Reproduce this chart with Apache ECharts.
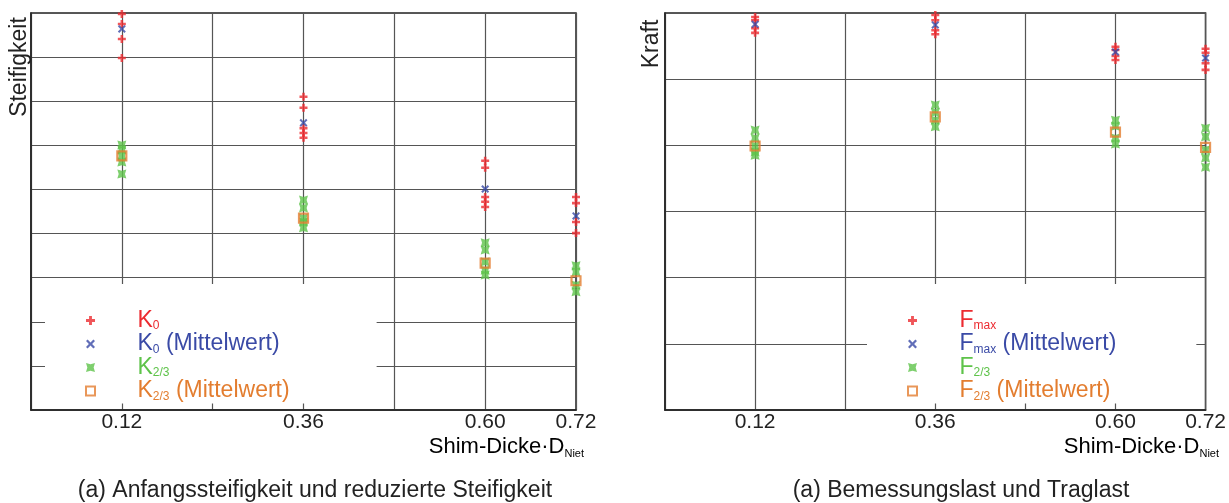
<!DOCTYPE html>
<html><head><meta charset="utf-8">
<script src="https://cdn.jsdelivr.net/npm/echarts@6/dist/echarts.min.js"></script>
<style>html,body{margin:0;padding:0;background:#fff}#c{width:1229px;height:503px}</style>
</head><body><div id="c"></div>
<script>
// ---- data (arbitrary units; y axis has no tick labels) ----
const xCats = [0.12, 0.36, 0.60, 0.72];
const xTickLabels = ['0.12', '0.36', '0.60', '0.72'];
// Left panel: Steifigkeit (grid 0..9)
const K0 = [[8.98, 8.75, 8.41, 7.98], [7.10, 6.85, 6.39, 6.28, 6.17], [5.65, 5.49, 4.83, 4.72, 4.60], [4.83, 4.69, 4.26, 4.01]];
const K0Mean = [8.64, 6.51, 5.01, 4.40];
const K23 = [[6.01, 5.90, 5.76, 5.62, 5.35], [4.76, 4.58, 4.35, 4.26, 4.13], [3.79, 3.63, 3.36, 3.17, 3.06], [3.27, 3.13, 2.83, 2.68]];
const K23Mean = [5.76, 4.35, 3.33, 2.93];
// Right panel: Kraft (grid 0..6)
const Fmax = [[5.94, 5.89, 5.77, 5.70], [5.97, 5.89, 5.74, 5.68], [5.49, 5.44, 5.35, 5.29], [5.46, 5.40, 5.24, 5.14]];
const FmaxMean = [5.83, 5.82, 5.41, 5.32];
const F23 = [[4.23, 4.11, 3.99, 3.90, 3.85], [4.61, 4.50, 4.38, 4.28], [4.38, 4.29, 4.11, 4.02], [4.26, 4.13, 3.93, 3.81, 3.67]];
const F23Mean = [3.99, 4.43, 4.20, 3.97];

const RED = '#ec2b30', BLUE = '#3a4aa6', GREEN = '#5ec34a', ORANGE = '#e37d2f';
const FONT = '"Liberation Sans", Arial, sans-serif';
const PLUS = 'path://M0,3.4H10V6.6H0Z M3.4,0H6.6V10H3.4Z';
const CROSS = 'path://M0,1.8L1.8,0L5,3.2L8.2,0L10,1.8L6.8,5L10,8.2L8.2,10L5,6.8L1.8,10L0,8.2L3.2,5Z';
const STAR = 'path://M0,0L5,1.5L10,0L8.5,5L10,10L5,8.5L0,10L1.5,5Z';
const BOX = 'path://M0,0H10V10H0Z';

function multi(arr) { const out = []; arr.forEach((vals, i) => vals.forEach(v => out.push([xCats[i], v]))); return out; }
function single(arr) { return arr.map((v, i) => [xCats[i], v]); }

function sc(name, data, idx, symbol, size, color, z, extra) {
  return Object.assign({
    type: 'scatter', name: name, data: data, xAxisIndex: idx, yAxisIndex: idx,
    symbol: symbol, symbolSize: size, z: z, itemStyle: { color: color }, animation: false
  }, extra || {});
}

const rich = {
  r: { color: RED, fontSize: 23, lineHeight: 23, fontFamily: FONT },
  rs: { color: RED, fontSize: 12, lineHeight: 9, verticalAlign: 'bottom', fontFamily: FONT },
  b: { color: BLUE, fontSize: 23, lineHeight: 23, fontFamily: FONT },
  bs: { color: BLUE, fontSize: 12, lineHeight: 9, verticalAlign: 'bottom', fontFamily: FONT },
  g: { color: GREEN, fontSize: 23, lineHeight: 23, fontFamily: FONT },
  gs: { color: GREEN, fontSize: 12, lineHeight: 9, verticalAlign: 'bottom', fontFamily: FONT },
  o: { color: ORANGE, fontSize: 23, lineHeight: 23, fontFamily: FONT },
  os: { color: ORANGE, fontSize: 12, lineHeight: 9, verticalAlign: 'bottom', fontFamily: FONT }
};
const legendText = {
  'K0': '{r|K}{rs|0}',
  'K0 (Mittelwert)': '{b|K}{bs|0}{b| (Mittelwert)}',
  'K2/3': '{g|K}{gs|2/3}',
  'K2/3 (Mittelwert)': '{o|K}{os|2/3}{o| (Mittelwert)}',
  'Fmax': '{r|F}{rs|max}',
  'Fmax (Mittelwert)': '{b|F}{bs|max}{b| (Mittelwert)}',
  'F2/3': '{g|F}{gs|2/3}',
  'F2/3 (Mittelwert)': '{o|F}{os|2/3}{o| (Mittelwert)}'
};

function xAxis(idx) {
  return {
    type: 'value', gridIndex: idx, min: 0, max: 0.72, interval: 0.12,
    axisLine: { show: true, lineStyle: { color: '#222', width: 1.5 } },
    axisTick: { show: false },
    splitLine: { show: true, lineStyle: { color: '#555', width: 1.2 } },
    axisLabel: {
      margin: 2, fontSize: 21, color: '#222', fontFamily: FONT, showMinLabel: true, showMaxLabel: true,
      formatter: v => { const i = xCats.findIndex(c => Math.abs(c - v) < 1e-6); return i >= 0 ? xTickLabels[i] : ''; }
    }
  };
}
function yAxis(idx, max) {
  return {
    type: 'value', gridIndex: idx, min: 0, max: max, interval: 1,
    axisLine: { show: true, lineStyle: { color: '#222', width: 1.5 } },
    axisTick: { show: false }, axisLabel: { show: false },
    splitLine: { show: true, lineStyle: { color: '#555', width: 1.2 } }
  };
}
function legend(names, left, padRight) {
  return {
    data: names, orient: 'vertical', left: left, top: 284,
    padding: [25, padRight, 1, 40], backgroundColor: '#fff',
    itemWidth: 84, itemHeight: 9, itemGap: 0.5,
    formatter: n => legendText[n],
    textStyle: { fontFamily: FONT, fontSize: 23, rich: rich },
    selectedMode: false
  };
}
const subRich = {
  a: { fontSize: 22, lineHeight: 24, color: '#222', fontFamily: FONT },
  s: { fontSize: 11, lineHeight: 8, verticalAlign: 'bottom', color: '#222', fontFamily: FONT }
};
const hollow = { itemStyle: { color: 'rgba(255,255,255,0)', borderColor: ORANGE, borderWidth: 2.2 } };

const option = {
  backgroundColor: '#fff',
  animation: false,
  grid: [
    { left: 31, right: 653, top: 13, bottom: 93, show: true, borderColor: '#222', borderWidth: 1.5, backgroundColor: 'transparent' },
    { left: 665, right: 17, top: 13, bottom: 93, show: true, borderColor: '#222', borderWidth: 1.5, backgroundColor: 'transparent' }
  ],
  xAxis: [xAxis(0), xAxis(1)],
  yAxis: [yAxis(0, 9), yAxis(1, 6)],
  legend: [
    legend(['K0', 'K0 (Mittelwert)', 'K2/3', 'K2/3 (Mittelwert)'], 45, 87),
    legend(['Fmax', 'Fmax (Mittelwert)', 'F2/3', 'F2/3 (Mittelwert)'], 867, 80)
  ],
  series: [
    sc('K0', multi(K0), 0, PLUS, 8, RED, 3),
    sc('K2/3', multi(K23), 0, STAR, 9, GREEN, 3),
    sc('K0 (Mittelwert)', single(K0Mean), 0, CROSS, 8, BLUE, 4),
    sc('K2/3 (Mittelwert)', single(K23Mean), 0, BOX, 9, ORANGE, 5, hollow),
    sc('Fmax', multi(Fmax), 1, PLUS, 8, RED, 3),
    sc('F2/3', multi(F23), 1, STAR, 9, GREEN, 3),
    sc('Fmax (Mittelwert)', single(FmaxMean), 1, CROSS, 8, BLUE, 4),
    sc('F2/3 (Mittelwert)', single(F23Mean), 1, BOX, 9, ORANGE, 5, hollow)
  ],
  graphic: [
    { type: 'text', x: 20, y: 67, rotation: Math.PI / 2, style: { text: 'Steifigkeit', font: '23px ' + FONT, fill: '#222', align: 'center', verticalAlign: 'middle' } },
    { type: 'text', x: 652, y: 44, rotation: Math.PI / 2, style: { text: 'Kraft', font: '23px ' + FONT, fill: '#222', align: 'center', verticalAlign: 'middle' } },
    { type: 'text', x: 584, y: 447, style: { text: '{a|Shim-Dicke·D}{s|Niet}', rich: subRich, align: 'right', verticalAlign: 'middle' } },
    { type: 'text', x: 1219, y: 447, style: { text: '{a|Shim-Dicke·D}{s|Niet}', rich: subRich, align: 'right', verticalAlign: 'middle' } },
    { type: 'text', x: 315, y: 491, style: { text: '(a) Anfangssteifigkeit und reduzierte Steifigkeit', font: '23px ' + FONT, fill: '#222', align: 'center', verticalAlign: 'middle' } },
    { type: 'text', x: 961, y: 491, style: { text: '(a) Bemessungslast und Traglast', font: '23px ' + FONT, fill: '#222', align: 'center', verticalAlign: 'middle' } }
  ]
};
const chart = echarts.init(document.getElementById('c'), null, { renderer: 'canvas' });
chart.setOption(option);
</script></body></html>
